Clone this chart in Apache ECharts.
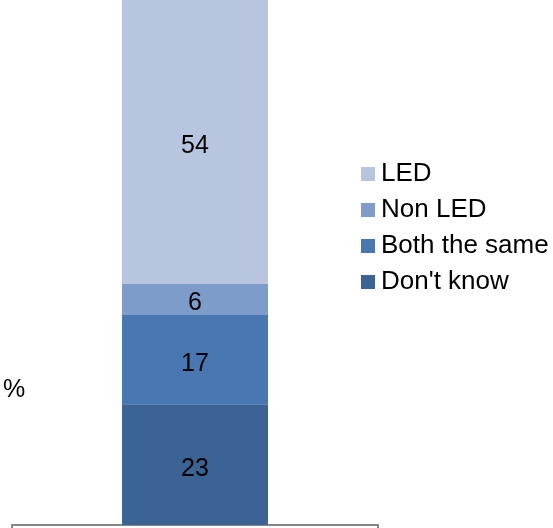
<!DOCTYPE html>
<html>
<head>
<meta charset="utf-8">
<script src="https://cdn.jsdelivr.net/npm/echarts@6/dist/echarts.min.js"></script>
<style>
  html, body { margin: 0; padding: 0; background: #fff; }
  #chart { width: 553px; height: 528px; }
</style>
</head>
<body>
<div id="chart"></div>
<script>
// Single stacked column, bottom to top
const categories = [''];
const seriesNames = ["Don't know", 'Both the same', 'Non LED', 'LED'];
const dontKnow = [23];
const bothSame = [17];
const nonLed = [6];
const led = [54];
const colors = ['#3B6495', '#4877B2', '#7E9CC9', '#B7C5DF'];
const legendOrder = ['LED', 'Non LED', 'Both the same', "Don't know"];
const unitLabel = '%';

const values = [dontKnow, bothSame, nonLed, led];
const font = 'Liberation Sans, Arial, sans-serif';

const chart = echarts.init(document.getElementById('chart'), null, { renderer: 'canvas' });
chart.setOption({
  animation: false,
  textStyle: { fontFamily: font },
  grid: { left: 12, right: 175, top: 0, bottom: 3, containLabel: false },
  legend: {
    data: legendOrder,
    orient: 'vertical',
    left: 356,
    top: 156,
    itemWidth: 14,
    itemHeight: 14,
    itemGap: 10,
    icon: 'rect',
    textStyle: { fontSize: 26, color: '#000', fontFamily: font, padding: [0, 0, 0, 1] }
  },
  graphic: [{
    type: 'text',
    left: 3,
    top: 378,
    style: { text: unitLabel, fontSize: 25, fill: '#000', fontFamily: font }
  }],
  xAxis: {
    type: 'category',
    data: categories,
    axisLine: { lineStyle: { color: '#868686', width: 2 } },
    axisTick: { show: true, length: 3, lineStyle: { color: '#868686', width: 2 } },
    axisLabel: { show: false }
  },
  yAxis: {
    type: 'value',
    min: 0,
    max: 100,
    axisLine: { show: false },
    axisTick: { show: false },
    axisLabel: { show: false },
    splitLine: { show: false }
  },
  series: seriesNames.map((name, i) => ({
    name: name,
    type: 'bar',
    stack: 'total',
    barWidth: 146,
    data: values[i],
    itemStyle: { color: colors[i] },
    label: {
      show: true,
      position: 'inside',
      offset: [0, 4],
      fontSize: 25,
      color: '#000',
      fontFamily: font
    }
  }))
});
</script>
</body>
</html>
